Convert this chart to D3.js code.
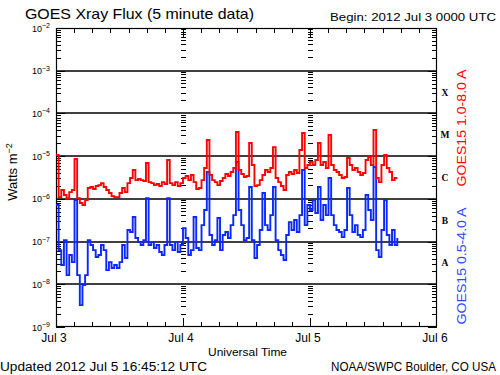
<!DOCTYPE html>
<html><head><meta charset="utf-8">
<script src="https://cdn.jsdelivr.net/npm/d3@7"></script>
<style>body{margin:0;background:#fff}svg{display:block}</style>
</head><body>
<script>
// ---------- data ----------
const startTime = new Date(Date.UTC(2012, 6, 3, 0, 0));
const stepMinutes = 30;
// GOES15 1.0-8.0 A (W/m^2), every 30 min from 2012 Jul 3 00:00 UTC
const longFlux = [
1.06e-5,1.10e-6,1.61e-6,1.23e-6,1.04e-6,1.44e-6,1.61e-6,8.55e-6,1.04e-6,7.98e-7,
7.16e-7,9.38e-7,1.79e-6,1.89e-6,1.70e-6,2.00e-6,2.10e-6,2.34e-6,1.89e-6,1.61e-6,
1.37e-6,1.16e-6,1.10e-6,1.10e-6,1.37e-6,1.79e-6,1.44e-6,2.34e-6,3.07e-6,4.72e-6,
2.75e-6,2.91e-6,2.75e-6,2.61e-6,6.89e-6,2.47e-6,2.34e-6,2.10e-6,2.22e-6,2.00e-6,
2.47e-6,2.22e-6,8.11e-6,2.34e-6,2.10e-6,2.47e-6,2.00e-6,2.34e-6,3.07e-6,3.42e-6,
2.75e-6,3.61e-6,2.47e-6,1.70e-6,1.79e-6,2.75e-6,5.26e-6,2.38e-5,3.61e-6,2.75e-6,
2.47e-6,2.10e-6,2.61e-6,3.07e-6,3.81e-6,3.42e-6,4.24e-6,5.26e-6,3.67e-5,4.72e-6,
3.81e-6,3.24e-6,3.42e-6,2.03e-5,6.19e-6,2.00e-6,2.10e-6,2.75e-6,3.61e-6,4.72e-6,
4.24e-6,5.26e-6,1.63e-5,3.07e-6,2.47e-6,2.00e-6,1.61e-6,3.61e-6,4.24e-6,3.81e-6,
4.72e-6,4.02e-6,1.39e-5,3.48e-5,5.26e-6,6.19e-6,7.28e-6,6.19e-6,8.11e-6,2.03e-5,
6.19e-6,7.28e-6,5.26e-6,3.12e-5,6.19e-6,4.72e-6,4.24e-6,3.61e-6,3.07e-6,3.24e-6,
9.03e-6,6.19e-6,4.72e-6,5.26e-6,4.24e-6,3.61e-6,4.02e-6,8.11e-6,9.53e-6,6.19e-6,
4.08e-5,3.07e-6,2.47e-6,6.19e-6,1.06e-5,5.26e-6,4.24e-6,2.75e-6,3.07e-6,3.07e-6
];
// GOES15 0.5-4.0 A (W/m^2)
const shortFlux = [
7.16e-7,6.32e-8,2.82e-8,1.08e-7,1.64e-8,4.83e-8,3.31e-8,9.38e-7,1.64e-8,3.26e-9,
9.58e-9,1.64e-8,1.08e-7,8.28e-8,6.32e-8,4.34e-8,4.83e-8,8.28e-8,6.32e-8,2.15e-8,
3.31e-8,2.40e-8,2.82e-8,2.40e-8,3.31e-8,8.28e-8,4.11e-8,1.86e-7,1.67e-7,3.75e-7,
1.21e-7,9.73e-8,8.28e-8,1.08e-7,1.04e-6,8.28e-8,9.73e-8,7.05e-8,8.28e-8,5.68e-8,
4.83e-8,8.28e-8,1.04e-6,8.28e-8,6.32e-8,9.73e-8,5.68e-8,8.28e-8,2.07e-7,1.21e-7,
4.83e-8,6.32e-8,3.75e-7,7.05e-8,6.32e-8,2.43e-7,5.47e-7,4.24e-6,1.42e-7,8.28e-8,
1.08e-7,3.55e-7,6.32e-8,1.42e-7,1.67e-7,1.21e-7,2.43e-7,4.17e-7,7.28e-6,5.47e-7,
2.43e-7,1.08e-7,1.21e-7,1.89e-6,1.08e-7,4.11e-8,8.28e-8,1.86e-7,1.37e-6,2.43e-7,
1.86e-7,4.17e-7,1.89e-6,1.08e-7,6.32e-8,4.83e-8,3.69e-8,1.42e-7,2.86e-7,1.86e-7,
3.19e-7,1.67e-7,4.17e-7,4.72e-6,2.43e-7,7.16e-7,5.47e-7,9.38e-7,4.65e-7,1.89e-6,
3.19e-7,7.16e-7,4.17e-7,3.07e-6,4.17e-7,2.43e-7,1.86e-7,1.67e-7,1.27e-7,1.86e-7,
1.79e-6,4.17e-7,1.67e-7,2.43e-7,1.42e-7,1.27e-7,1.86e-7,1.23e-6,5.47e-7,3.19e-7,
5.56e-6,6.32e-8,4.34e-8,1.86e-7,9.38e-7,1.42e-7,8.28e-8,1.86e-7,8.28e-8,1.21e-7
];
const dayLabels = ["Jul 3", "Jul 4", "Jul 5", "Jul 6"];
const decadeExponents = [-2, -3, -4, -5, -6, -7, -8, -9];
const classLabels = ["X", "M", "C", "B", "A"];
const classLowerExponents = [-4, -5, -6, -7, -8];
const titleText = "GOES Xray Flux (5 minute data)";
const beginText = "Begin:  2012 Jul 3 0000 UTC";
const updatedText = "Updated 2012 Jul  5 16:45:12 UTC";
const creditText = "NOAA/SWPC Boulder, CO USA";
const xTitle = "Universal Time";
const longLabel = "GOES15 1.0-8.0 A";
const shortLabel = "GOES15 0.5-4.0 A";

// ---------- layout ----------
const W = 500, H = 375;
const L = 56, R = 437, T = 28, B = 327;
const FONT = "'Liberation Sans', Arial, sans-serif";
const RED = "#ff0000", BLUE = "#0a28ff";

const svg = d3.select("body").append("svg").attr("width", W).attr("height", H)
  .style("font-family", FONT);
svg.append("rect").attr("width", W).attr("height", H).attr("fill", "#fff");

const dayMs = 86400000;
const x = d3.scaleUtc().domain([startTime, new Date(+startTime + 3 * dayMs)]).range([L, R]);
const y = d3.scaleLog().domain([1e-9, 1e-2]).range([B, T]);

const toPts = arr => arr.map((v, i) => ({ t: new Date(+startTime + i * stepMinutes * 60000), v }));

// minor tick values (2..9 x 10^n)
const minorVals = [];
for (let e = -9; e < -2; e++) for (let k = 2; k <= 9; k++) minorVals.push(k * Math.pow(10, e));
const majorVals = decadeExponents.map(e => Math.pow(10, e));

// decade grid lines
svg.append("g").selectAll("line").data(majorVals.filter(v => v < 9e-3 && v > 2e-9)).join("line")
  .attr("x1", L).attr("x2", R)
  .attr("y1", d => Math.round(y(d))).attr("y2", d => Math.round(y(d)))
  .attr("stroke", "#000").attr("stroke-width", 1.6);

// left/right axes with inward ticks
function yAxis(gen, xpos, vals, size) {
  const g = svg.append("g").attr("transform", `translate(${xpos},0)`)
    .call(gen(y).tickValues(vals).tickSize(size).tickSizeOuter(0).tickFormat(""));
  g.select(".domain").remove();
  g.selectAll("line").attr("stroke", "#000").attr("shape-rendering", "crispEdges");
}
yAxis(d3.axisLeft, L, minorVals, -5);
yAxis(d3.axisLeft, L, majorVals, -9);
yAxis(d3.axisRight, R, minorVals, -5);
yAxis(d3.axisRight, R, majorVals, -9);

// day-boundary tick columns
const dayBounds = [1, 2].map(d => new Date(+startTime + d * dayMs));
dayBounds.forEach(db => {
  const cx = Math.round(x(db)) + 0.5;
  svg.append("g").selectAll("line").data(minorVals).join("line")
    .attr("x1", cx - 2.5).attr("x2", cx + 2.5)
    .attr("y1", d => y(d)).attr("y2", d => y(d))
    .attr("stroke", "#000").attr("shape-rendering", "crispEdges");
});

// x ticks (7 intervals per day)
const xMinor = [];
for (let d = 0; d < 3; d++) for (let k = 1; k < 7; k++) xMinor.push(new Date(+startTime + (d + k / 7) * dayMs));
const xMajor = dayBounds;
function xAxis(gen, ypos, vals, size) {
  const g = svg.append("g").attr("transform", `translate(0,${ypos})`)
    .call(gen(x).tickValues(vals).tickSize(size).tickSizeOuter(0).tickFormat(""));
  g.select(".domain").remove();
  g.selectAll("line").attr("stroke", "#000").attr("shape-rendering", "crispEdges");
}
xAxis(d3.axisBottom, B, xMinor, -5);
xAxis(d3.axisTop, T, xMinor, -5);
xAxis(d3.axisBottom, B, xMajor, -9);
xAxis(d3.axisTop, T, xMajor, -9);

// frame
svg.append("rect").attr("x", L + 0.5).attr("y", T + 0.5).attr("width", R - L - 1).attr("height", B - T - 1)
  .attr("fill", "none").attr("stroke", "#000").attr("stroke-width", 1.2);

// data lines
const line = d3.line().x(d => x(d.t)).y(d => y(d.v)).curve(d3.curveStepAfter);
svg.append("path").datum(toPts(shortFlux)).attr("d", line)
  .attr("fill", "none").attr("stroke", BLUE).attr("stroke-width", 1.9).attr("stroke-linejoin", "miter");
svg.append("path").datum(toPts(longFlux)).attr("d", line)
  .attr("fill", "none").attr("stroke", RED).attr("stroke-width", 1.9).attr("stroke-linejoin", "miter");

// y tick labels 10^n
decadeExponents.forEach(e => {
  const t = svg.append("text").attr("x", 50).attr("y", y(Math.pow(10, e)) + 3.5)
    .attr("text-anchor", "end").attr("font-size", 9).attr("fill", "#000");
  t.append("tspan").text("10");
  t.append("tspan").attr("dy", -3.5).attr("font-size", 7).text(String(e).replace("-", "\u2212"));
});

// y title
svg.append("text").attr("transform", `translate(17,172) rotate(-90)`)
  .attr("text-anchor", "middle").attr("font-size", 13).attr("fill", "#000")
  .call(t => { t.append("tspan").text("Watts m"); t.append("tspan").attr("dy", -5).attr("font-size", 9).text("\u22122"); });

// x labels
dayLabels.forEach((lab, i) => {
  svg.append("text").attr("x", x(new Date(+startTime + i * dayMs)) - 2).attr("y", 342)
    .attr("text-anchor", "middle").attr("font-size", 12).attr("fill", "#000").text(lab);
});
svg.append("text").attr("x", 208).attr("y", 356).attr("font-size", 11.5)
  .attr("textLength", 79).attr("lengthAdjust", "spacingAndGlyphs").text(xTitle);

// title & info
svg.append("text").attr("x", 25).attr("y", 18.5).attr("font-size", 14.5)
  .attr("textLength", 229).attr("lengthAdjust", "spacingAndGlyphs").text(titleText);
svg.append("text").attr("x", 330).attr("y", 20.5).attr("font-size", 11.5)
  .attr("textLength", 166).attr("lengthAdjust", "spacingAndGlyphs").text(beginText);
svg.append("text").attr("x", 0).attr("y", 371).attr("font-size", 12)
  .attr("textLength", 207).attr("lengthAdjust", "spacingAndGlyphs").text(updatedText);
svg.append("text").attr("x", 331).attr("y", 371).attr("font-size", 12)
  .attr("textLength", 165).attr("lengthAdjust", "spacingAndGlyphs").text(creditText);

// class letters
classLabels.forEach((c, i) => {
  svg.append("text").attr("x", 445).attr("y", y(Math.pow(10, classLowerExponents[i] + 0.5)) + 3.5)
    .attr("text-anchor", "middle").attr("font-size", 9.5).attr("font-weight", "bold")
    .attr("font-family", "'Liberation Serif', 'DejaVu Serif', serif").text(c);
});

// series labels (rotated)
svg.append("text").attr("transform", "translate(466,128) rotate(-90)").attr("text-anchor", "middle")
  .attr("font-size", 12).attr("fill", RED).attr("textLength", 117).attr("lengthAdjust", "spacingAndGlyphs").text(longLabel);
svg.append("text").attr("transform", "translate(466,266) rotate(-90)").attr("text-anchor", "middle")
  .attr("font-size", 12).attr("fill", "#2a48ff").attr("textLength", 117).attr("lengthAdjust", "spacingAndGlyphs").text(shortLabel);
</script>
</body></html>
